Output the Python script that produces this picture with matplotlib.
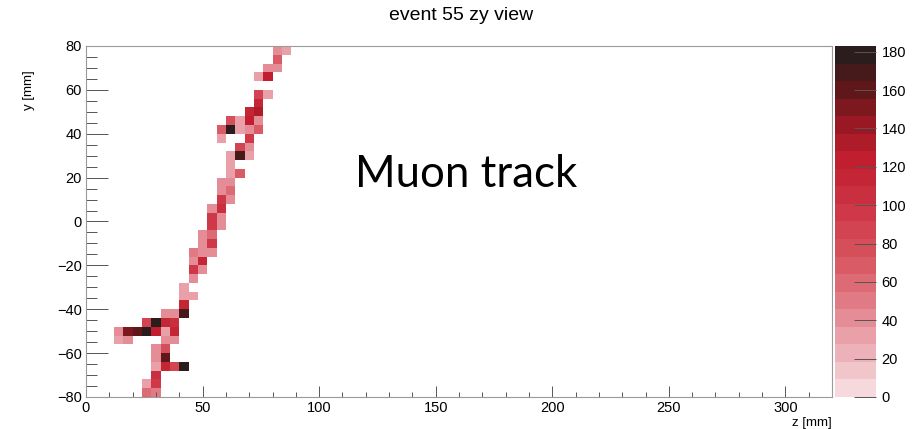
import numpy as np
import matplotlib
matplotlib.use("Agg")
import matplotlib.pyplot as plt
from matplotlib.colors import LinearSegmentedColormap, ListedColormap, BoundaryNorm
from matplotlib.ticker import MultipleLocator

# Hit cells of event 55 in the z-y projection (4 mm x 4 mm bins): bin centres and deposited charge
z_mm = [82, 86,
        82,
        78, 82,
        74, 78,
        74, 78,
        74,
        70, 74,
        62, 66, 70, 74,
        58, 62, 66, 70, 74,
        58, 70,
        66, 70,
        62, 66, 70,
        62,
        62, 66,
        58, 62,
        58, 62,
        58, 62,
        54, 58,
        54, 58,
        54, 58,
        50, 54,
        50, 54,
        46, 50, 54,
        46, 50,
        46, 50,
        46,
        42,
        42, 46,
        42,
        34, 38, 42,
        26, 30, 34, 38,
        14, 18, 22, 26, 30, 34, 38,
        14, 18, 34, 38,
        30, 34,
        30, 34,
        30, 34, 38, 42,
        30,
        26, 30,
        26, 30]
y_mm = [78, 78,
        74,
        70, 70,
        66, 66,
        58, 58,
        54,
        50, 50,
        46, 46, 46, 46,
        42, 42, 42, 42, 42,
        38, 38,
        34, 34,
        30, 30, 30,
        26,
        22, 22,
        18, 18,
        14, 14,
        10, 10,
        6, 6,
        2, 2,
        -2, -2,
        -6, -6,
        -10, -10,
        -14, -14, -14,
        -18, -18,
        -22, -22,
        -26,
        -30,
        -34, -34,
        -38,
        -42, -42, -42,
        -46, -46, -46, -46,
        -50, -50, -50, -50, -50, -50, -50,
        -54, -54, -54, -54,
        -58, -58,
        -62, -62,
        -66, -66, -66, -66,
        -70,
        -74, -74,
        -78, -78]
charge = [45, 30,
          70,
          40, 40,
          28, 125,
          90, 35,
          110,
          115, 130,
          75, 35, 120, 45,
          65, 178, 35, 40, 65,
          35, 100,
          85, 40,
          35, 165, 35,
          35,
          35, 65,
          40, 40,
          40, 55,
          95, 40,
          45, 105,
          100, 40,
          95, 40,
          45, 55,
          40, 95,
          50, 40, 45,
          40, 115,
          95, 40,
          45,
          30,
          30, 35,
          110,
          40, 40, 165,
          85, 178, 110, 105,
          40, 150, 160, 180, 120, 35, 110,
          35, 40, 40, 40,
          40, 75,
          40, 160,
          35, 110, 90, 180,
          105,
          35, 95,
          55, 50]
z_edges = np.arange(0, 324, 4)
y_edges = np.arange(-80, 84, 4)
z_max = 183.0
n_levels = 20

plt.rcParams["font.family"] = ["Liberation Sans", "DejaVu Sans"]

W, H = 922, 429
fig = plt.figure(figsize=(W / 100, H / 100), dpi=100)
fig.patch.set_facecolor("white")

ax = fig.add_axes([86 / W, 1 - 397 / H, (832 - 86) / W, (397 - 46) / H])
cax = fig.add_axes([835 / W, 1 - 397 / H, (876 - 835) / W, (397 - 46) / H])

# Pale pink -> red -> black palette in discrete contour levels
base = LinearSegmentedColormap.from_list(
    "pinkred",
    [(0.0, "#f8e2e4"), (0.1, "#efbcc2"), (0.25, "#e2838c"), (0.4, "#d7545f"),
     (0.55, "#cd3343"), (0.68, "#c01d2e"), (0.78, "#981823"), (0.88, "#5e1719"),
     (1.0, "#1f1f1f")])
levels = np.linspace(0, z_max, n_levels + 1)
cmap = ListedColormap(base((np.arange(n_levels) + 0.5) / n_levels))
norm = BoundaryNorm(levels, cmap.N)

hist, _, _ = np.histogram2d(z_mm, y_mm, bins=[z_edges, y_edges], weights=charge)
hist = np.ma.masked_equal(hist.T, 0)
mesh = ax.pcolormesh(z_edges, y_edges, hist, cmap=cmap, norm=norm)

ax.set_xlim(0, 320)
ax.set_ylim(-80, 80)
ax.xaxis.set_major_locator(MultipleLocator(50))
ax.xaxis.set_minor_locator(MultipleLocator(10))
ax.yaxis.set_major_locator(MultipleLocator(20))
ax.yaxis.set_minor_locator(MultipleLocator(5))
tick_col = "#555555"
ax.tick_params(axis="x", which="major", direction="in", length=7.6, width=0.7,
               color=tick_col, labelsize=10.5, pad=3)
ax.tick_params(axis="x", which="minor", direction="in", length=3.8, width=0.7,
               color=tick_col)
ax.tick_params(axis="y", which="major", direction="in", length=15.8, width=0.7,
               color=tick_col, labelsize=10.5, pad=3)
ax.tick_params(axis="y", which="minor", direction="in", length=7.9, width=0.7,
               color=tick_col)
for sp in ax.spines.values():
    sp.set_color("#9a9a9a")
    sp.set_linewidth(0.8)

ax.set_xlabel("z [mm]", fontsize=9.5, loc="right", labelpad=1)
ax.set_ylabel("y [mm]", fontsize=9.5, loc="top")
ax.yaxis.set_label_coords(-0.068, 0.93)

cb = fig.colorbar(mesh, cax=cax, ticks=np.arange(0, 181, 20))
cb.outline.set_linewidth(0)
cax.tick_params(direction="in", length=15.8, width=0.7, color="#555555",
                labelsize=10.5, pad=4)
cb.ax.minorticks_off()

fig.text(461 / W, 1 - 16 / H, "event 55 zy view", ha="center", va="center",
         fontsize=14)
fig.text(355 / W, 1 - 187 / H, "Muon track", ha="left", va="baseline",
         fontsize=31.5, family=["Lato", "DejaVu Sans"])

fig.savefig("out.png", dpi=100)
